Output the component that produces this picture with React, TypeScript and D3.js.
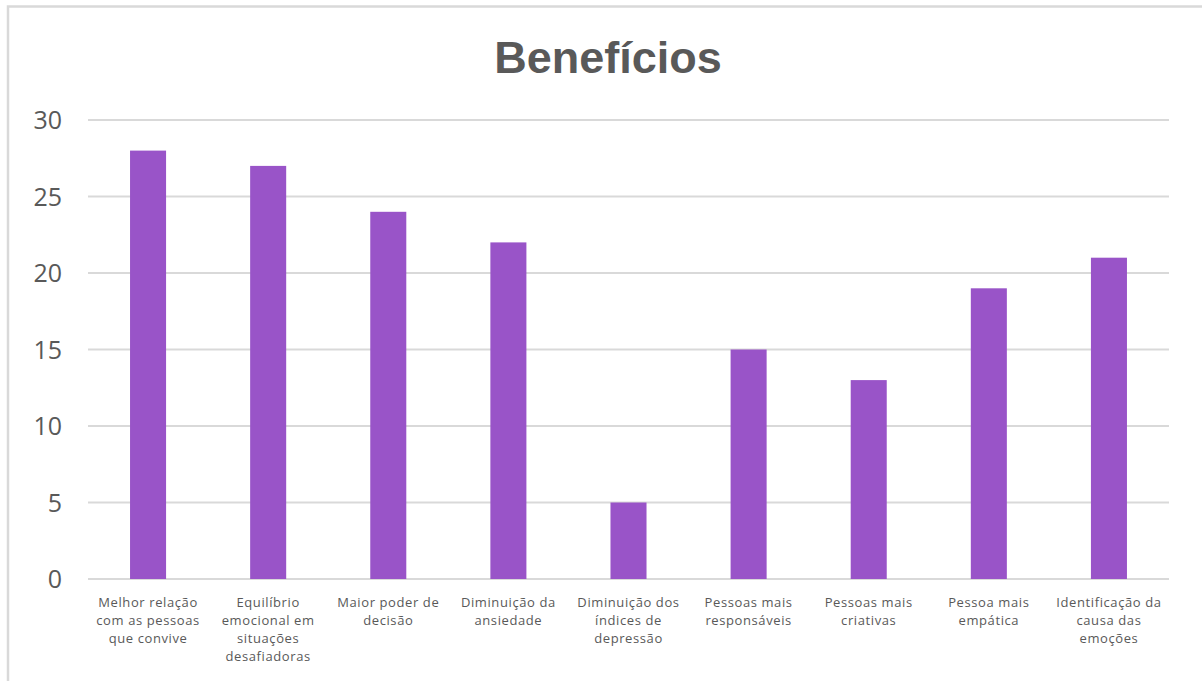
import React from "react";
import * as d3 from "d3";

const categories: string[] = [
  "Melhor relação\ncom as pessoas\nque convive",
  "Equilíbrio\nemocional em\nsituações\ndesafiadoras",
  "Maior poder de\ndecisão",
  "Diminuição da\nansiedade",
  "Diminuição dos\níndices de\ndepressão",
  "Pessoas mais\nresponsáveis",
  "Pessoas mais\ncriativas",
  "Pessoa mais\nempática",
  "Identificação da\ncausa das\nemoções",
];
const values: number[] = [28, 27, 24, 22, 5, 15, 13, 19, 21];
const yTicks: number[] = [0, 5, 10, 15, 20, 25, 30];
const title = "Benefícios";

const W = 1202;
const H = 681;
const plotLeft = 88;
const plotRight = 1169;
const plotTop = 120;
const plotBottom = 579;

export default function App() {
  const x = d3
    .scaleBand<number>()
    .domain(d3.range(categories.length))
    .range([plotLeft, plotRight])
    .padding(0);
  const y = d3.scaleLinear().domain([0, 30]).range([plotBottom, plotTop]);
  const barW = x.bandwidth() * 0.3;
  const textColor = "#595959";

  return (
    <svg
      width={W}
      height={H}
      style={{ position: "absolute", left: 0, top: 0, background: "#fff" }}
    >
      <rect x={0} y={0} width={W} height={H} fill="#fff" />
      <rect
        x={8}
        y={6.5}
        width={W + 10}
        height={H + 10}
        fill="none"
        stroke="#d9d9d9"
        strokeWidth={2.5}
      />
      <text
        x={608}
        y={73}
        textAnchor="middle"
        fontFamily="'Liberation Sans', Arial, sans-serif"
        fontWeight="bold"
        fontSize={45}
        fill={textColor}
      >
        {title}
      </text>
      {yTicks.map((t) => (
        <g key={t}>
          <line
            x1={plotLeft}
            x2={plotRight}
            y1={y(t)}
            y2={y(t)}
            stroke="#d9d9d9"
            strokeWidth={2}
          />
          <text
            x={62}
            y={y(t)}
            dy="0.36em"
            textAnchor="end"
            fontFamily="'Open Sans', sans-serif"
            fontSize={25}
            fill={textColor}
          >
            {t}
          </text>
        </g>
      ))}
      {values.map((v, i) => (
        <rect
          key={i}
          x={(x(i) as number) + (x.bandwidth() - barW) / 2}
          y={y(v)}
          width={barW}
          height={y(0) - y(v)}
          fill="#9954c8"
        />
      ))}
      {categories.map((c, i) => {
        const cx = (x(i) as number) + x.bandwidth() / 2;
        return (
          <text
            key={i}
            textAnchor="middle"
            fontFamily="'Open Sans', sans-serif"
            fontSize={13}
            letterSpacing={0.6}
            fill={textColor}
          >
            {c.split("\n").map((line, j) => (
              <tspan key={j} x={cx} y={607 + j * 18}>
                {line}
              </tspan>
            ))}
          </text>
        );
      })}
    </svg>
  );
}
